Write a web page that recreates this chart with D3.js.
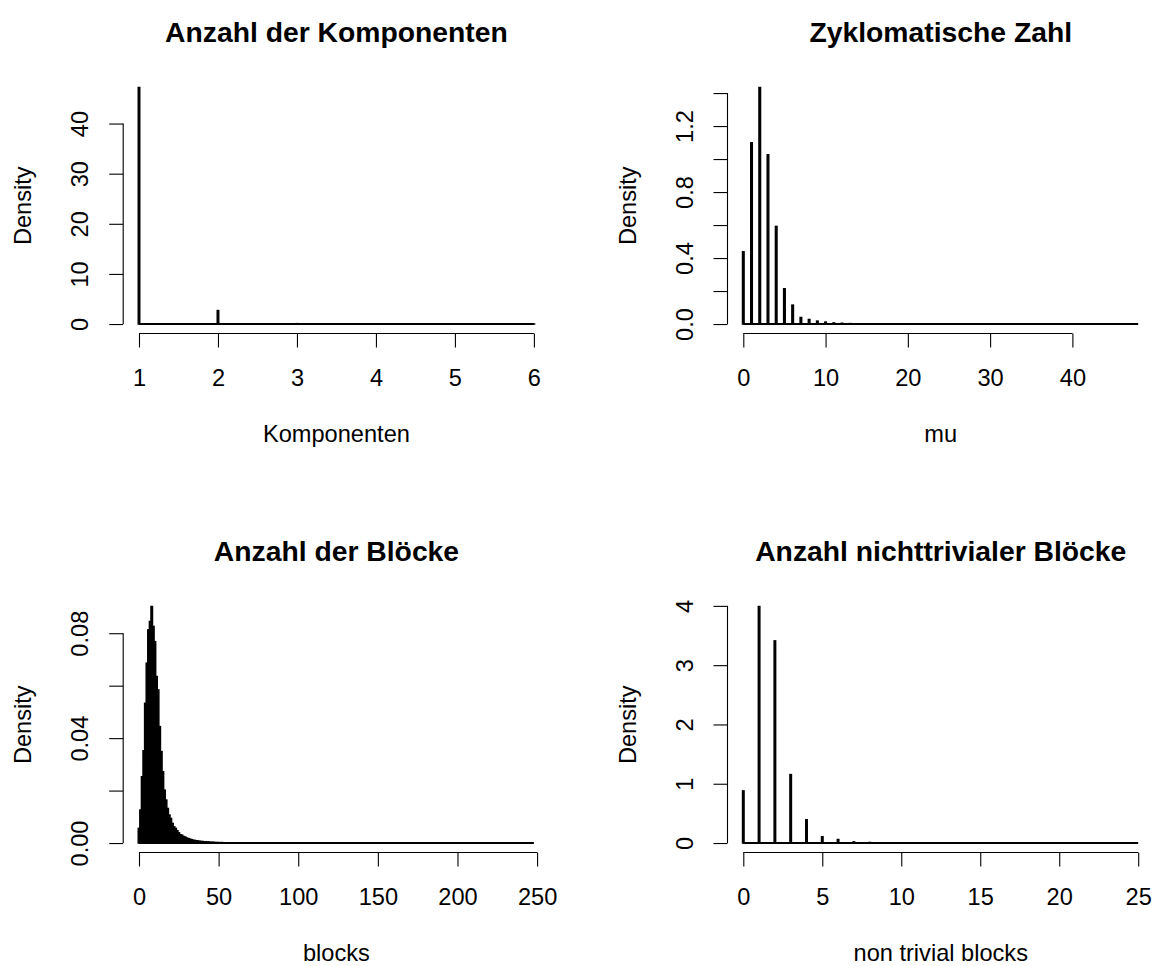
<!DOCTYPE html>
<html>
<head>
<meta charset="utf-8">
<script src="https://cdn.jsdelivr.net/npm/d3@7"></script>
<style>
  body { margin: 0; background: #fff; }
  svg text { font-family: "Liberation Sans", Arial, Helvetica, sans-serif; fill: #000; }
</style>
</head>
<body>
<div id="chart"></div>
<script>
// panel titles and axis labels
const titles = ['Anzahl der Komponenten', 'Zyklomatische Zahl', 'Anzahl der Blöcke', 'Anzahl nichttrivialer Blöcke'];
const xLabels = ['Komponenten', 'mu', 'blocks', 'non trivial blocks'];

// Anzahl der Komponenten (bin width 0.02)
const komponentenX = [1, 2, 3, 4, 5, 6];
const komponentenDensity = [47.2, 2.7, 0.09, 0.01, 0.003, 0.001];
const komponentenRange = [1, 6];
const komponentenBin = 0.02;
const komponentenXTicks = [1, 2, 3, 4, 5, 6];
const komponentenYTicks = [0, 10, 20, 30, 40];

// Zyklomatische Zahl (bin width 0.2)
const muX = [0, 1, 2, 3, 4, 5, 6, 7, 8, 9, 10, 11, 12, 13, 14, 15, 16, 17, 18, 19, 20];
const muDensity = [0.438, 1.099, 1.434, 1.026, 0.592, 0.214, 0.115, 0.040, 0.028, 0.018,
  0.012, 0.007, 0.005, 0.003, 0.002, 0.0015, 0.001, 0.0008, 0.0005, 0.0004, 0.0003];
const muRange = [0, 48];
const muBin = 0.2;
const muXTicks = [0, 10, 20, 30, 40];
const muYTicks = [0, 0.2, 0.4, 0.6, 0.8, 1.0, 1.2, 1.4];
const muYLabelled = [0, 0.4, 0.8, 1.2];

// Anzahl der Blöcke (bin width 1)
const blocksX = [0, 1, 2, 3, 4, 5, 6, 7, 8, 9, 10, 11, 12, 13, 14, 15, 16, 17, 18, 19,
  20, 21, 22, 23, 24, 25, 26, 27, 28, 29, 30, 31, 32, 33, 34, 35, 36, 37, 38, 39,
  40, 41, 42, 43, 44, 45, 46, 47, 48, 49, 50, 52, 54, 56, 58, 60, 65, 70, 80, 90];
const blocksDensity = [0.0056, 0.0126, 0.0253, 0.0352, 0.0533, 0.0686, 0.0813, 0.0845, 0.0902, 0.0826,
  0.0768, 0.0635, 0.0584, 0.0444, 0.0349, 0.0272, 0.0202, 0.0164, 0.0132, 0.0107,
  0.0094, 0.0075, 0.0062, 0.0056, 0.0047, 0.0039, 0.0032, 0.0030, 0.0025, 0.0023,
  0.0019, 0.0017, 0.0015, 0.0013, 0.0011, 0.0010, 0.0009, 0.0008, 0.0007, 0.0006,
  0.0006, 0.0005, 0.0005, 0.0004, 0.0004, 0.0003, 0.0003, 0.0003, 0.0002, 0.0002,
  0.0002, 0.0002, 0.0001, 0.0001, 0.0001, 0.0001, 0.0001, 0.0001, 0.0001, 0.0001];
const blocksRange = [0, 248];
const blocksBin = 1;
const blocksXTicks = [0, 50, 100, 150, 200, 250];
const blocksYTicks = [0, 0.02, 0.04, 0.06, 0.08];
const blocksYLabelled = [0, 0.04, 0.08];

// Anzahl nichttrivialer Blöcke (bin width 0.1)
const nonTrivX = [0, 1, 2, 3, 4, 5, 6, 7, 8, 9, 10, 11, 12];
const nonTrivDensity = [0.88, 3.99, 3.41, 1.155, 0.394, 0.107, 0.06, 0.02, 0.01, 0.005, 0.003, 0.002, 0.001];
const nonTrivRange = [0, 25];
const nonTrivBin = 0.1;
const nonTrivXTicks = [0, 5, 10, 15, 20, 25];
const nonTrivYTicks = [0, 1, 2, 3, 4];

(function () {
  const width = 1164;
  const height = 966;

  const svg = d3.select('#chart')
    .append('svg')
    .attr('width', width)
    .attr('height', height);

  // plot regions, R style (2 x 2)
  const colLeft = [123.2, 727.5];
  const rowTop = [78, 597];
  const plotW = 426.5;
  const plotH = 255.5;
  const fontSize = 23.6;

  const panels = [
    { x: komponentenX, y: komponentenDensity, range: komponentenRange, bin: komponentenBin,
      xTicks: komponentenXTicks, yTicks: komponentenYTicks, yFmt: d3.format('d') },
    { x: muX, y: muDensity, range: muRange, bin: muBin,
      xTicks: muXTicks, yTicks: muYTicks, yFmt: d => muYLabelled.some(v => Math.abs(v - d) < 1e-9) ? d3.format('.1f')(d) : '' },
    { x: blocksX, y: blocksDensity, range: blocksRange, bin: blocksBin,
      xTicks: blocksXTicks, yTicks: blocksYTicks, yFmt: d => blocksYLabelled.some(v => Math.abs(v - d) < 1e-9) ? d3.format('.2f')(d) : '' },
    { x: nonTrivX, y: nonTrivDensity, range: nonTrivRange, bin: nonTrivBin,
      xTicks: nonTrivXTicks, yTicks: nonTrivYTicks, yFmt: d3.format('d') }
  ];

  panels.forEach((p, i) => {
    const left = colLeft[i % 2];
    const top = rowTop[Math.floor(i / 2)];
    const g = svg.append('g').attr('transform', `translate(${left},${top})`);

    // R pads the data range by 4% on each side
    const [lo, hi] = p.range;
    const xPad = (hi - lo) * 0.04;
    const x = d3.scaleLinear().domain([lo - xPad, hi + xPad]).range([0, plotW]);
    const yMax = d3.max(p.y);
    const y = d3.scaleLinear().domain([-yMax * 0.04, yMax * 1.04]).range([plotH, 0]);

    const bins = p.x.map((v, j) => ({ v: v, d: p.y[j] }));

    // empty bins show as a line along zero
    g.append('line')
      .attr('x1', x(lo)).attr('x2', x(hi))
      .attr('y1', y(0)).attr('y2', y(0))
      .attr('stroke', '#000')
      .attr('stroke-width', 2);

    g.append('g')
      .selectAll('rect')
      .data(bins)
      .join('rect')
      .attr('x', d => x(d.v - p.bin / 2))
      .attr('width', d => x(d.v + p.bin / 2) - x(d.v - p.bin / 2))
      .attr('y', d => y(d.d))
      .attr('height', d => y(0) - y(d.d))
      .attr('fill', '#000')
      .attr('stroke', '#000')
      .attr('stroke-width', 1.4);

    // x axis
    const xAxis = g.append('g')
      .attr('transform', `translate(0,${plotH})`)
      .call(d3.axisBottom(x).tickValues(p.xTicks).tickSize(14).tickSizeOuter(0).tickFormat(d3.format('d')));
    xAxis.select('.domain')
      .attr('d', `M${x(p.xTicks[0])},0H${x(p.xTicks[p.xTicks.length - 1])}`);
    xAxis.selectAll('text')
      .attr('y', 52).attr('dy', null)
      .style('font-size', fontSize + 'px');

    // y axis, labels parallel to the axis
    const yAxis = g.append('g')
      .call(d3.axisLeft(y).tickValues(p.yTicks).tickSize(14).tickSizeOuter(0).tickFormat(p.yFmt));
    yAxis.select('.domain')
      .attr('d', `M0,${y(p.yTicks[0])}V${y(p.yTicks[p.yTicks.length - 1])}`);
    yAxis.selectAll('text')
      .attr('x', null).attr('dy', null)
      .attr('text-anchor', 'middle')
      .attr('transform', 'translate(-35,0) rotate(-90)')
      .style('font-size', fontSize + 'px');

    g.selectAll('.domain, .tick line').attr('stroke', '#000').attr('stroke-width', 1.1);
    g.selectAll('.tick text').attr('fill', '#000');

    // title and axis labels
    g.append('text')
      .attr('x', plotW / 2).attr('y', -36)
      .attr('text-anchor', 'middle')
      .style('font-size', '28.3px')
      .style('font-weight', 'bold')
      .text(titles[i]);

    g.append('text')
      .attr('x', plotW / 2).attr('y', plotH + 108)
      .attr('text-anchor', 'middle')
      .style('font-size', fontSize + 'px')
      .text(xLabels[i]);

    g.append('text')
      .attr('transform', `translate(-92,${plotH / 2}) rotate(-90)`)
      .attr('text-anchor', 'middle')
      .style('font-size', fontSize + 'px')
      .text('Density');
  });
})();
</script>
</body>
</html>
